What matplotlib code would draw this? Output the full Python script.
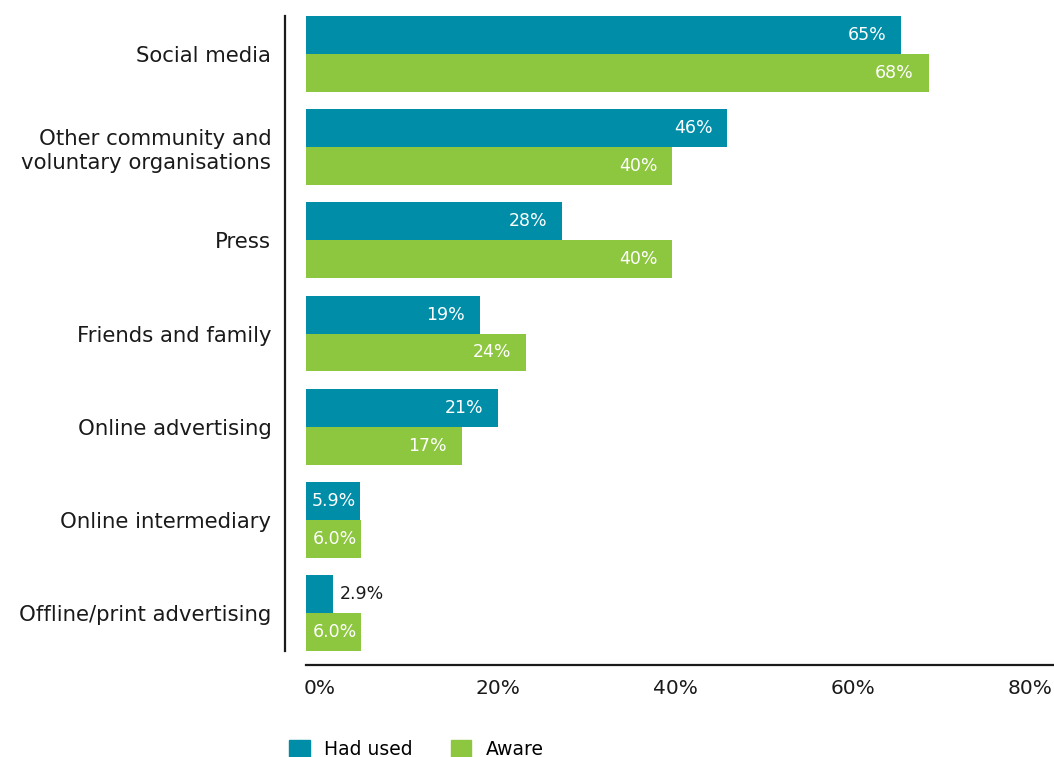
import matplotlib
matplotlib.use("Agg")
import matplotlib.pyplot as plt
from matplotlib.patches import Patch
from matplotlib.transforms import ScaledTranslation

categories = ["Social media", "Other community and\nvoluntary organisations", "Press",
              "Friends and family", "Online advertising", "Online intermediary",
              "Offline/print advertising"]
had_used = [65, 46, 28, 19, 21, 5.9, 2.9]
aware = [68, 40, 40, 24, 17, 6.0, 6.0]
xticks = [0, 20, 40, 60, 80]
xticklabels = ["0%", "20%", "40%", "60%", "80%"]
series_names = ["Had used", "Aware"]

TEAL = "#008DA8"
GREEN = "#8DC63F"
TXT = "#1a1a1a"

plt.rcParams['font.family'] = ['DejaVu Sans']

W, H = 1054, 757
fig = plt.figure(figsize=(W / 100, H / 100), dpi=100)
ax = fig.add_axes([306 / W, 106 / H, (1054 - 306) / W, (651 - 16) / H])

h = 0.407
ys = list(range(len(categories)))
b1 = ax.barh([y - h / 2 for y in ys], had_used, height=h, color=TEAL)
b2 = ax.barh([y + h / 2 for y in ys], aware, height=h, color=GREEN)

ax.set_xlim(0, 81.7)
ax.set_ylim(len(categories) - 1 + h, -h)


def fmt(v):
    return f"{v:.0f}%" if v >= 10 else f"{v:.1f}%"


for bars, vals in ((b1, had_used), (b2, aware)):
    for rect, v in zip(bars, vals):
        yc = rect.get_y() + rect.get_height() / 2
        if v >= 10:
            ax.annotate(fmt(v), (v, yc), xytext=(-10.5, 0), textcoords="offset points",
                        ha="right", va="center", color="white", fontsize=12.5)
        elif v >= 5:
            ax.annotate(fmt(v), (v, yc), xytext=(-3, 0), textcoords="offset points",
                        ha="right", va="center", color="white", fontsize=12.5)
        else:
            ax.annotate(fmt(v), (v, yc), xytext=(5, 0), textcoords="offset points",
                        ha="left", va="center", color=TXT, fontsize=12.5)

for s in ("top", "right"):
    ax.spines[s].set_visible(False)
ax.spines["left"].set_position(("outward", 15))
ax.spines["bottom"].set_position(("outward", 10))
for s in ("left", "bottom"):
    ax.spines[s].set_linewidth(1.6)
    ax.spines[s].set_color(TXT)

ax.set_yticks(ys)
ax.set_yticklabels(categories, linespacing=1.25)
ax.set_xticks(xticks)
ax.set_xticklabels(xticklabels)
ax.tick_params(axis="both", length=0, labelcolor=TXT)
ax.tick_params(axis="y", pad=10, labelsize=15.3)
ax.tick_params(axis="x", pad=10, labelsize=14.5)
for lab, v in zip(ax.get_xticklabels(), xticks):
    dx = (14 - 0.275 * v) / 100
    lab.set_transform(lab.get_transform() + ScaledTranslation(dx, 0, fig.dpi_scale_trans))

handles = [Patch(color=TEAL), Patch(color=GREEN)]
fig.legend(handles, series_names, loc="lower left", bbox_to_anchor=(272 / W, -19 / H),
           ncol=2, frameon=False, fontsize=13.5, handlelength=1.1, handleheight=1.1,
           handletextpad=0.8, columnspacing=2.0)

fig.savefig("out.png", dpi=100)
